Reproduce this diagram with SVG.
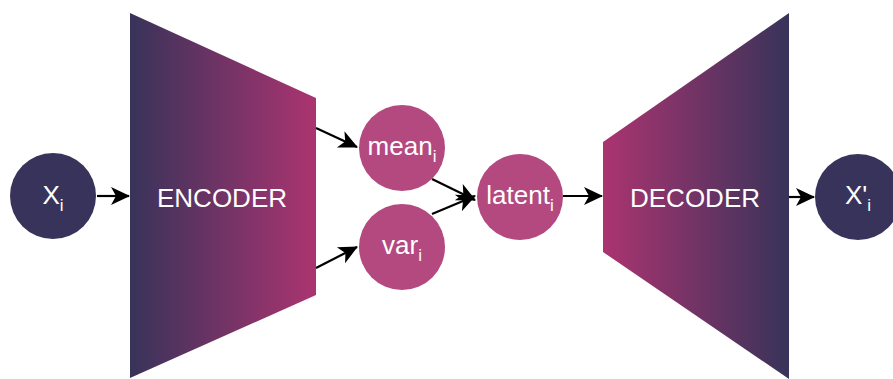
<svg xmlns="http://www.w3.org/2000/svg" width="893" height="379" viewBox="0 0 893 379">
<style>
.dark{fill:#38335a}
.pink{fill:#b4497f}
.lbl{font-family:"Liberation Sans",Arial,sans-serif;font-size:26px;fill:#ffffff;text-anchor:middle}
.sub{font-size:17px}
.edge{stroke:#000;stroke-width:2.2;fill:none;marker-end:url(#ah)}
</style>
<defs>
<linearGradient id="gEnc" x1="0" y1="0" x2="1" y2="0">
<stop offset="0" stop-color="#38335a"/>
<stop offset="1" stop-color="#ab3470"/>
</linearGradient>
<linearGradient id="gDec" x1="0" y1="0" x2="1" y2="0">
<stop offset="0" stop-color="#ab3470"/>
<stop offset="1" stop-color="#38335a"/>
</linearGradient>
<marker id="ah" viewBox="0 0 20 20" refX="19" refY="10" markerWidth="20" markerHeight="20" markerUnits="userSpaceOnUse" orient="auto">
<path d="M1,1 L20,10 L1,19 L6,10 z" fill="#000"/>
</marker>
</defs>
<g id="connectors">
<line class="edge" x1="97" y1="196" x2="129" y2="196"/>
<line class="edge" x1="316" y1="128" x2="357" y2="147"/>
<line class="edge" x1="316" y1="268" x2="357" y2="247"/>
<line class="edge" x1="432" y1="179" x2="475" y2="200"/>
<line class="edge" x1="432" y1="214" x2="475" y2="196"/>
<line class="edge" x1="563" y1="196" x2="602" y2="196"/>
<line class="edge" x1="789" y1="197" x2="814" y2="197"/>
</g>
<g id="xi">
<circle class="dark" cx="53" cy="196" r="43"/>
<text class="lbl" x="53" y="204">X<tspan class="sub" dy="7">i</tspan></text>
</g>
<g id="encoder">
<polygon points="130,13 316,98 316,295 130,378" fill="url(#gEnc)"/>
<text class="lbl" x="222" y="207">ENCODER</text>
</g>
<g id="mean">
<circle class="pink" cx="402" cy="148" r="43"/>
<text class="lbl" x="402" y="155">mean<tspan class="sub" dy="7">i</tspan></text>
</g>
<g id="var">
<circle class="pink" cx="402" cy="247" r="43"/>
<text class="lbl" x="402" y="254">var<tspan class="sub" dy="7">i</tspan></text>
</g>
<g id="latent">
<circle class="pink" cx="520" cy="197" r="43"/>
<text class="lbl" x="520" y="204">latent<tspan class="sub" dy="7">i</tspan></text>
</g>
<g id="decoder">
<polygon points="603,142 789,13 789,379 603,252" fill="url(#gDec)"/>
<text class="lbl" x="695" y="207">DECODER</text>
</g>
<g id="xpi">
<circle class="dark" cx="858" cy="197" r="43"/>
<text class="lbl" x="858" y="204">X'<tspan class="sub" dy="7">i</tspan></text>
</g>
</svg>
